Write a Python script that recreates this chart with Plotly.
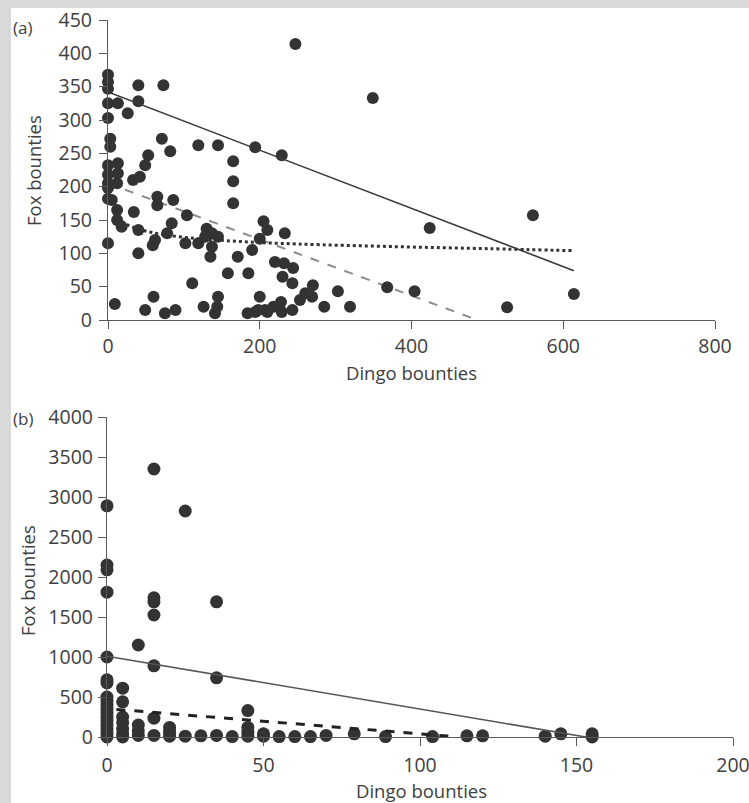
import plotly.graph_objects as go

# ---------------- Panel (a) data ----------------
dingo_a = [0, 0, 0, 0, 0, 3, 3, 0, 0, 0, 0, 0, 0, 13, 26, 40, 40, 73, 13, 13, 12, 5, 33, 42, 49, 53,
           71, 82, 119, 145, 165, 165, 165, 194, 229, 247, 349, 65, 65, 86, 12, 12, 18, 34, 40, 104,
           84, 78, 62, 59, 102, 119, 128, 137, 145, 137, 135, 40, 171, 190, 200, 205, 210, 233, 158,
           185, 111, 220, 232, 244, 230, 243, 270, 260, 253, 269, 303, 368, 404, 319, 285, 228, 218,
           243, 229, 200, 194, 210, 184, 145, 144, 126, 141, 89, 75, 60, 49, 9, 560, 424, 614, 526,
           207, 198, 130]
fox_a = [368, 357, 347, 325, 303, 272, 260, 232, 218, 205, 198, 182, 115, 325, 310, 328, 352, 352, 235,
         220, 205, 180, 210, 215, 232, 247, 272, 253, 262, 262, 238, 208, 175, 259, 247, 414, 333, 185,
         172, 180, 165, 150, 140, 162, 135, 157, 145, 130, 120, 112, 115, 115, 125, 130, 125, 110, 95,
         100, 95, 105, 122, 148, 135, 130, 70, 70, 55, 87, 85, 78, 65, 55, 52, 40, 30, 35, 43, 49, 43,
         20, 20, 27, 20, 15, 12, 35, 12, 12, 10, 35, 20, 20, 10, 15, 10, 35, 15, 24, 157, 138, 39, 19,
         15, 15, 137]

# trend lines (a)
trend_a_solid_x = [0, 614]
trend_a_solid_y = [342, 74]
trend_a_dash_x = [0, 487]
trend_a_dash_y = [205, 0]
trend_a_dot_x = [12, 25, 55, 100, 170, 250, 380, 500, 614]
trend_a_dot_y = [154, 143, 132, 124, 118, 114, 110, 107, 104]

# ---------------- Panel (b) data ----------------
dingo_b = ([0] * 18 + [5] * 7 + [10] * 4 + [15] * 7 + [20] * 3 + [25] * 2 + [30] + [35] * 3 + [40]
           + [45] * 4 + [50] * 2 + [55, 60, 65, 70, 79, 89, 104, 115, 120, 140, 145, 155, 155])
fox_b = ([2890, 2150, 2090, 1810, 1000, 715, 675, 500, 450, 400, 350, 300, 250, 200, 150, 100, 50, 0]
         + [610, 440, 250, 180, 100, 40, 0]
         + [1150, 150, 80, 20]
         + [3350, 1740, 1690, 1525, 890, 235, 20]
         + [120, 60, 10]
         + [2825, 10]
         + [15]
         + [1690, 740, 20]
         + [5]
         + [330, 120, 60, 10]
         + [40, 10]
         + [5, 5, 5, 20, 40, 5, 5, 15, 15, 10, 40, 40, 0])

trend_b_solid_x = [0, 153]
trend_b_solid_y = [1010, 0]
trend_b_dash_x = [3, 110]
trend_b_dash_y = [345, 8]

W, H = 749, 803
FONT = "Open Sans"
TXT = "#404040"
AX = "#5a5a5a"
MK = "#333333"

fig = go.Figure()

# panel (a)
fig.add_trace(go.Scatter(x=trend_a_dash_x, y=trend_a_dash_y, mode="lines",
                         line=dict(color="#8c8c8c", width=2, dash="dash"),
                         xaxis="x", yaxis="y", showlegend=False, cliponaxis=False))
fig.add_trace(go.Scatter(x=dingo_a, y=fox_a, mode="markers",
                         marker=dict(color=MK, size=12, line=dict(width=0)),
                         xaxis="x", yaxis="y", showlegend=False, cliponaxis=False))
fig.add_trace(go.Scatter(x=trend_a_solid_x, y=trend_a_solid_y, mode="lines",
                         line=dict(color="#3a3a3a", width=1.6),
                         xaxis="x", yaxis="y", showlegend=False, cliponaxis=False))
fig.add_trace(go.Scatter(x=trend_a_dot_x, y=trend_a_dot_y, mode="lines", line_shape="spline",
                         line=dict(color="#333333", width=3, dash="dot"),
                         xaxis="x", yaxis="y", showlegend=False, cliponaxis=False))

# panel (b)
fig.add_trace(go.Scatter(x=dingo_b, y=fox_b, mode="markers",
                         marker=dict(color=MK, size=13, line=dict(width=0)),
                         xaxis="x2", yaxis="y2", showlegend=False, cliponaxis=False))
fig.add_trace(go.Scatter(x=trend_b_solid_x, y=trend_b_solid_y, mode="lines",
                         line=dict(color="#555555", width=1.6),
                         xaxis="x2", yaxis="y2", showlegend=False, cliponaxis=False))
fig.add_trace(go.Scatter(x=trend_b_dash_x, y=trend_b_dash_y, mode="lines",
                         line=dict(color="#222222", width=3, dash="dash"),
                         xaxis="x2", yaxis="y2", showlegend=False, cliponaxis=False))

axcommon = dict(showline=True, linecolor=AX, linewidth=1.3, ticks="outside", ticklen=8,
                tickcolor=AX, tickwidth=1.3, showgrid=False, zeroline=False,
                ticklabeloverflow="allow",
                tickfont=dict(family=FONT, size=19.5, color=TXT), fixedrange=True)

fig.update_layout(
    width=W, height=H,
    margin=dict(l=0, r=0, t=0, b=0, autoexpand=False),
    paper_bgcolor="#d9d9d9",
    plot_bgcolor="rgba(0,0,0,0)",
    font=dict(family=FONT, color=TXT),
    xaxis=dict(domain=[108 / W, 715 / W], range=[0, 800], dtick=200, anchor="y",
               ticklabelstandoff=0, **axcommon),
    yaxis=dict(domain=[1 - 320 / H, 1 - 20 / H], range=[0, 450], dtick=50, anchor="x",
               ticklabelstandoff=3, **axcommon),
    xaxis2=dict(domain=[107 / W, 733 / W], range=[0, 200], dtick=50, anchor="y2",
                ticklabelstandoff=2, **axcommon),
    yaxis2=dict(domain=[1 - 737 / H, 1 - 417 / H], range=[0, 4000], dtick=500, anchor="x2",
                ticklabelstandoff=1, **axcommon),
    shapes=[dict(type="rect", xref="paper", yref="paper", x0=11 / W, x1=1, y0=0, y1=1 - 8 / H,
                 fillcolor="white", line=dict(width=0), layer="below")],
    annotations=[
        dict(text="(a)", xref="paper", yref="paper", x=11 / W, y=1 - 27 / H, xanchor="left",
             yanchor="middle", showarrow=False, font=dict(family=FONT, size=17, color=TXT)),
        dict(text="(b)", xref="paper", yref="paper", x=11 / W, y=1 - 418 / H, xanchor="left",
             yanchor="middle", showarrow=False, font=dict(family=FONT, size=17, color=TXT)),
        dict(text="Dingo bounties", xref="paper", yref="paper", x=411 / W, y=1 - 372 / H,
             xanchor="center", yanchor="middle", showarrow=False,
             font=dict(family=FONT, size=18.5, color=TXT)),
        dict(text="Dingo bounties", xref="paper", yref="paper", x=421 / W, y=1 - 790 / H,
             xanchor="center", yanchor="middle", showarrow=False,
             font=dict(family=FONT, size=18.5, color=TXT)),
        dict(text="Fox bounties", xref="paper", yref="paper", x=34 / W, y=1 - 171 / H,
             xanchor="center", yanchor="middle", showarrow=False, textangle=-90,
             font=dict(family=FONT, size=18.5, color=TXT)),
        dict(text="Fox bounties", xref="paper", yref="paper", x=27 / W, y=1 - 581 / H,
             xanchor="center", yanchor="middle", showarrow=False, textangle=-90,
             font=dict(family=FONT, size=18.5, color=TXT)),
    ],
)

fig.write_html("out.html", config={"displayModeBar": False},
               post_script="document.body.style.margin='0';")
